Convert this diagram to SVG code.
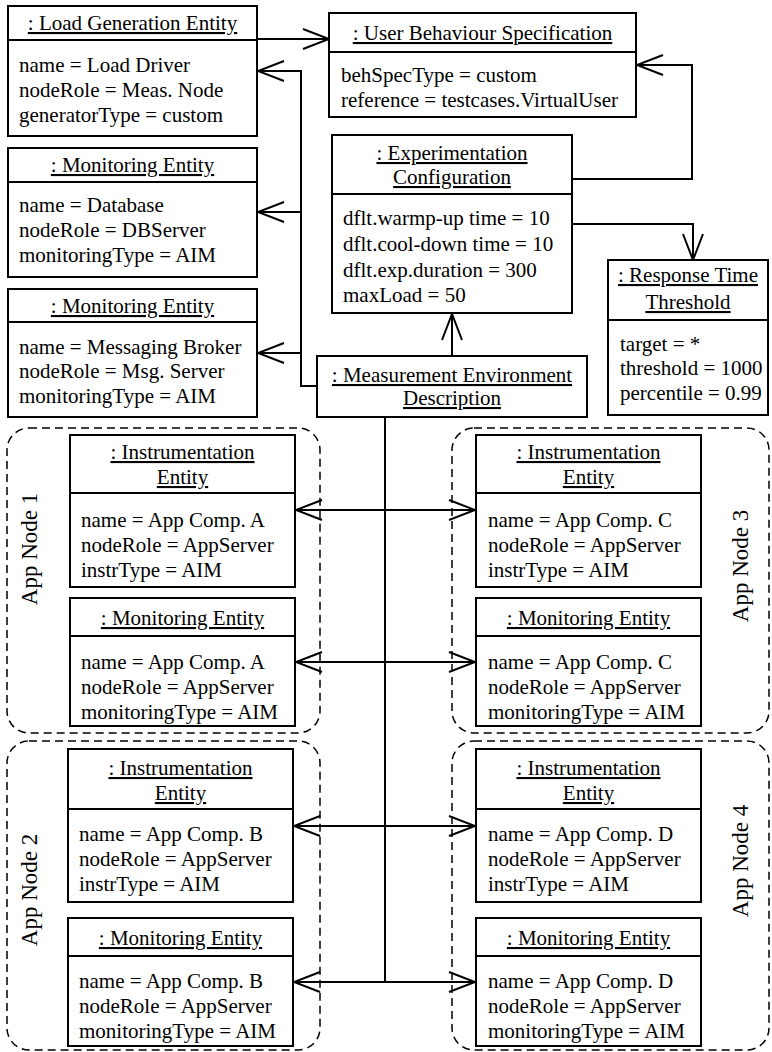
<svg xmlns="http://www.w3.org/2000/svg" width="772" height="1052" viewBox="0 0 772 1052">
<style>
.box{fill:#fff;stroke:#000;stroke-width:2}
.div{stroke:#000;stroke-width:2}
.t{font-family:"Liberation Serif","Times New Roman",serif;font-size:21px;fill:#000}
.h{text-anchor:middle;text-decoration:underline}
.lbl{font-family:"Liberation Serif","Times New Roman",serif;font-size:23px;fill:#000;text-anchor:middle}
.dash{fill:none;stroke:#000;stroke-width:1.5;stroke-dasharray:8 5}
.conn{fill:none;stroke:#000;stroke-width:2;marker-end:url(#arr)}
.line{fill:none;stroke:#000;stroke-width:2}
</style>
<defs>
<marker id="arr" markerUnits="userSpaceOnUse" viewBox="-30 -13 32 26" markerWidth="32" markerHeight="26" refX="0" refY="0" orient="auto">
<path d="M-26,-10 L0,0 L-26,10" fill="none" stroke="#000" stroke-width="2"/>
</marker>
</defs>
<rect width="772" height="1052" fill="#fff"/>

<g id="containers">
<g id="appnode1"><rect class="dash" x="7" y="428" width="313" height="305" rx="22"/><text class="lbl" transform="translate(37,549) rotate(-90)">App Node 1</text></g>
<g id="appnode2"><rect class="dash" x="7" y="741" width="313" height="309" rx="22"/><text class="lbl" transform="translate(37,890) rotate(-90)">App Node 2</text></g>
<g id="appnode3"><rect class="dash" x="452" y="428" width="317" height="305" rx="22"/><text class="lbl" transform="translate(748,566) rotate(-90)">App Node 3</text></g>
<g id="appnode4"><rect class="dash" x="452" y="741" width="317" height="309" rx="22"/><text class="lbl" transform="translate(748,861) rotate(-90)">App Node 4</text></g>
</g>

<g id="connectors">
<path class="conn" d="M257,39 H329"/>
<path class="conn" d="M572,179 H692 V65 H637"/>
<path class="conn" d="M572,224 H693 V260"/>
<path class="conn" d="M452,356 V314"/>
<path class="conn" d="M317,386 H301 V71 H258"/>
<path class="conn" d="M301,212 H258"/>
<path class="conn" d="M301,353 H258"/>
<path class="line" d="M385,417 V982"/>
<path class="conn" d="M385,510 H296"/>
<path class="conn" d="M385,510 H475"/>
<path class="conn" d="M385,662 H296"/>
<path class="conn" d="M385,662 H475"/>
<path class="conn" d="M385,826 H294"/>
<path class="conn" d="M385,826 H475"/>
<path class="conn" d="M385,982 H294"/>
<path class="conn" d="M385,982 H475"/>
</g>

<g id="loadgen">
<rect class="box" x="8" y="6" width="249" height="130"/><line class="div" x1="8" y1="40" x2="257" y2="40"/>
<text class="t h" x="132.5" y="30">: Load Generation Entity</text>
<text class="t" x="19" y="72">name = Load Driver</text>
<text class="t" x="19" y="97">nodeRole = Meas. Node</text>
<text class="t" x="19" y="122">generatorType = custom</text>
</g>

<g id="userbeh">
<rect class="box" x="329" y="13" width="307" height="104"/><line class="div" x1="329" y1="52" x2="636" y2="52"/>
<text class="t h" x="482.5" y="40">: User Behaviour Specification</text>
<text class="t" x="341" y="82">behSpecType = custom</text>
<text class="t" x="341" y="107">reference = testcases.VirtualUser</text>
</g>

<g id="mondb">
<rect class="box" x="8" y="148" width="249" height="129"/><line class="div" x1="8" y1="182" x2="257" y2="182"/>
<text class="t h" x="132.5" y="172">: Monitoring Entity</text>
<text class="t" x="19" y="212">name = Database</text>
<text class="t" x="19" y="237">nodeRole = DBServer</text>
<text class="t" x="19" y="262">monitoringType = AIM</text>
</g>

<g id="monmsg">
<rect class="box" x="8" y="289" width="249" height="128"/><line class="div" x1="8" y1="322" x2="257" y2="322"/>
<text class="t h" x="132.5" y="313">: Monitoring Entity</text>
<text class="t" x="19" y="354">name = Messaging Broker</text>
<text class="t" x="19" y="378">nodeRole = Msg. Server</text>
<text class="t" x="19" y="403">monitoringType = AIM</text>
</g>

<g id="expconfig">
<rect class="box" x="332" y="135" width="240" height="178"/><line class="div" x1="332" y1="194" x2="572" y2="194"/>
<text class="t h" x="452" y="160">: Experimentation</text>
<text class="t h" x="452" y="184">Configuration</text>
<text class="t" x="343" y="225">dflt.warmp-up time = 10</text>
<text class="t" x="343" y="251">dflt.cool-down time = 10</text>
<text class="t" x="343" y="277">dflt.exp.duration = 300</text>
<text class="t" x="343" y="302">maxLoad = 50</text>
</g>

<g id="resptime">
<rect class="box" x="608" y="260" width="160" height="155"/><line class="div" x1="608" y1="320" x2="768" y2="320"/>
<text class="t h" x="688" y="282">: Response Time</text>
<text class="t h" x="688" y="309">Threshold</text>
<text class="t" x="620" y="351">target = *</text>
<text class="t" x="620" y="375">threshold = 1000</text>
<text class="t" x="620" y="400">percentile = 0.99</text>
</g>

<g id="measenv">
<rect class="box" x="317" y="356" width="270" height="61"/>
<text class="t h" x="452" y="382">: Measurement Environment</text>
<text class="t h" x="452" y="405">Description</text>
</g>

<g id="inst-a">
<rect class="box" x="70" y="435" width="225" height="152"/><line class="div" x1="70" y1="493" x2="295" y2="493"/>
<text class="t h" x="182.5" y="459">: Instrumentation</text>
<text class="t h" x="182.5" y="484">Entity</text>
<text class="t" x="81" y="527">name = App Comp. A</text>
<text class="t" x="81" y="552">nodeRole = AppServer</text>
<text class="t" x="81" y="577">instrType = AIM</text>
</g>
<g id="mon-a">
<rect class="box" x="70" y="598" width="225" height="128"/><line class="div" x1="70" y1="636" x2="295" y2="636"/>
<text class="t h" x="182.5" y="625">: Monitoring Entity</text>
<text class="t" x="81" y="669">name = App Comp. A</text>
<text class="t" x="81" y="694">nodeRole = AppServer</text>
<text class="t" x="81" y="719">monitoringType = AIM</text>
</g>

<g id="inst-b">
<rect class="box" x="68" y="749" width="225" height="153"/><line class="div" x1="68" y1="809" x2="293" y2="809"/>
<text class="t h" x="180.5" y="775">: Instrumentation</text>
<text class="t h" x="180.5" y="800">Entity</text>
<text class="t" x="79" y="841">name = App Comp. B</text>
<text class="t" x="79" y="866">nodeRole = AppServer</text>
<text class="t" x="79" y="891">instrType = AIM</text>
</g>
<g id="mon-b">
<rect class="box" x="68" y="918" width="225" height="128"/><line class="div" x1="68" y1="956" x2="293" y2="956"/>
<text class="t h" x="180.5" y="945">: Monitoring Entity</text>
<text class="t" x="79" y="988">name = App Comp. B</text>
<text class="t" x="79" y="1013">nodeRole = AppServer</text>
<text class="t" x="79" y="1038">monitoringType = AIM</text>
</g>

<g id="inst-c">
<rect class="box" x="476" y="435" width="225" height="152"/><line class="div" x1="476" y1="493" x2="701" y2="493"/>
<text class="t h" x="588.5" y="459">: Instrumentation</text>
<text class="t h" x="588.5" y="484">Entity</text>
<text class="t" x="488" y="527">name = App Comp. C</text>
<text class="t" x="488" y="552">nodeRole = AppServer</text>
<text class="t" x="488" y="577">instrType = AIM</text>
</g>
<g id="mon-c">
<rect class="box" x="476" y="598" width="225" height="128"/><line class="div" x1="476" y1="636" x2="701" y2="636"/>
<text class="t h" x="588.5" y="625">: Monitoring Entity</text>
<text class="t" x="488" y="669">name = App Comp. C</text>
<text class="t" x="488" y="694">nodeRole = AppServer</text>
<text class="t" x="488" y="719">monitoringType = AIM</text>
</g>

<g id="inst-d">
<rect class="box" x="476" y="749" width="225" height="153"/><line class="div" x1="476" y1="809" x2="701" y2="809"/>
<text class="t h" x="588.5" y="775">: Instrumentation</text>
<text class="t h" x="588.5" y="800">Entity</text>
<text class="t" x="488" y="841">name = App Comp. D</text>
<text class="t" x="488" y="866">nodeRole = AppServer</text>
<text class="t" x="488" y="891">instrType = AIM</text>
</g>
<g id="mon-d">
<rect class="box" x="476" y="918" width="225" height="128"/><line class="div" x1="476" y1="956" x2="701" y2="956"/>
<text class="t h" x="588.5" y="945">: Monitoring Entity</text>
<text class="t" x="488" y="988">name = App Comp. D</text>
<text class="t" x="488" y="1013">nodeRole = AppServer</text>
<text class="t" x="488" y="1038">monitoringType = AIM</text>
</g>
</svg>
